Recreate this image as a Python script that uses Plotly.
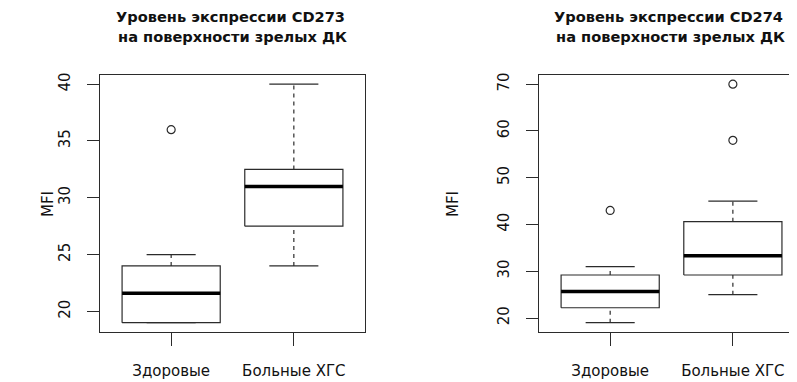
import plotly.graph_objects as go

# page body has an 8px default margin: figure is placed at (8, 8) in the window
OFF = 8
W, H = 797 - OFF, 382 - OFF

# ---- data ----
categories = ["Здоровые", "Больные ХГС"]

cd273_lower = [19, 24]
cd273_q1 = [19, 27.5]
cd273_median = [21.6, 31]
cd273_q3 = [24, 32.5]
cd273_upper = [25, 40]
cd273_outliers = [[36], []]

cd274_lower = [19, 25]
cd274_q1 = [22.2, 29.2]
cd274_median = [25.7, 33.3]
cd274_q3 = [29.2, 40.6]
cd274_upper = [31, 45]
cd274_outliers = [[43], [58, 70]]

cd273_ticks = [20, 25, 30, 35, 40]
cd274_ticks = [20, 30, 40, 50, 60, 70]

titles = ["Уровень экспрессии CD273", "Уровень экспрессии CD274"]
subtitle = " на поверхности зрелых ДК"
ylabel = "MFI"

LC = "#2b2b2b"
FONT = "DejaVu Sans, Liberation Sans, Arial, sans-serif"


def px(x):
    return (x - OFF) / W


def py(y):
    return 1 - (y - OFF) / H


fig = go.Figure()


def add_boxes(xa, ya, lower, q1, med, q3, upper, outliers):
    hw, cw = 0.4, 0.2
    bx, by, mx, my, wx, wy, cx, cy, ox, oy = [], [], [], [], [], [], [], [], [], []
    for i in range(len(categories)):
        c = i + 1
        bx += [c - hw, c + hw, c + hw, c - hw, c - hw, None]
        by += [q1[i], q1[i], q3[i], q3[i], q1[i], None]
        mx += [c - hw, c + hw, None]
        my += [med[i], med[i], None]
        if upper[i] > q3[i]:
            wx += [c, c, None]
            wy += [q3[i], upper[i], None]
        if lower[i] < q1[i]:
            wx += [c, c, None]
            wy += [lower[i], q1[i], None]
        cx += [c - cw, c + cw, None, c - cw, c + cw, None]
        cy += [upper[i], upper[i], None, lower[i], lower[i], None]
        for o in outliers[i]:
            ox.append(c)
            oy.append(o)
    common = dict(xaxis=xa, yaxis=ya, showlegend=False, hoverinfo="skip")
    fig.add_trace(go.Scatter(x=wx, y=wy, mode="lines",
                             line=dict(color=LC, width=1.2, dash="4px,4px"), **common))
    fig.add_trace(go.Scatter(x=cx, y=cy, mode="lines",
                             line=dict(color=LC, width=1.2), **common))
    fig.add_trace(go.Scatter(x=bx, y=by, mode="lines",
                             line=dict(color=LC, width=1.2), **common))
    fig.add_trace(go.Scatter(x=mx, y=my, mode="lines",
                             line=dict(color="#000000", width=3.5), **common))
    fig.add_trace(go.Scatter(x=ox, y=oy, mode="markers",
                             marker=dict(symbol="circle-open", size=8,
                                         color=LC, line=dict(width=1.2, color=LC)),
                             **common))


add_boxes("x", "y", cd273_lower, cd273_q1, cd273_median, cd273_q3, cd273_upper, cd273_outliers)
add_boxes("x2", "y2", cd274_lower, cd274_q1, cd274_median, cd274_q3, cd274_upper, cd274_outliers)

ydom = [py(332), py(73)]

xcommon = dict(tickvals=[1, 2], ticktext=categories, ticks="outside", ticklen=13,
               tickwidth=1.2, tickcolor=LC, showgrid=False, zeroline=False,
               showline=True, linecolor=LC, linewidth=1.2, mirror=True,
               tickfont=dict(family=FONT, size=15, color="#111"),
               ticklabelstandoff=12, fixedrange=True)
ycommon = dict(ticks="outside", ticklen=12, tickwidth=1.2, tickcolor=LC,
               showgrid=False, zeroline=False, showline=True, linecolor=LC,
               linewidth=1.2, tickangle=-90,
               tickfont=dict(family=FONT, size=15, color="#111"),
               ticklabelstandoff=11, fixedrange=True)

fig.update_layout(
    width=W, height=H,
    margin=dict(l=0, r=0, t=0, b=0),
    paper_bgcolor="white", plot_bgcolor="white",
    xaxis=dict(domain=[px(100), px(365)], range=[0.42, 2.58], anchor="y", **xcommon),
    yaxis=dict(domain=ydom, range=[18.16, 40.84], tickvals=cd273_ticks,
               anchor="x", mirror=True, **ycommon),
    xaxis2=dict(domain=[px(539), 1.0], range=[0.42, 0.42 + (797 - 539) / 122.7],
                anchor="y2", **xcommon),
    yaxis2=dict(domain=ydom, range=[16.96, 72.04], tickvals=cd274_ticks,
                anchor="x2", mirror=False, **ycommon),
)

anns = []
for t, cxp in zip(titles, [230, 668]):
    anns.append(dict(text="<b>" + t + "</b>", x=px(cxp), y=py(15), xref="paper", yref="paper",
                     showarrow=False, xanchor="center", yanchor="middle",
                     font=dict(family=FONT, size=14.6, color="#111")))
    anns.append(dict(text="<b>" + subtitle + "</b>", x=px(cxp), y=py(35), xref="paper",
                     yref="paper", showarrow=False, xanchor="center", yanchor="middle",
                     font=dict(family=FONT, size=14.6, color="#111")))
for lx in [48, 453]:
    anns.append(dict(text=ylabel, x=px(lx), y=py(203), xref="paper", yref="paper",
                     showarrow=False, textangle=-90, xanchor="center", yanchor="middle",
                     font=dict(family=FONT, size=15, color="#111")))
fig.update_layout(annotations=anns)

fig.write_html("out.html")
